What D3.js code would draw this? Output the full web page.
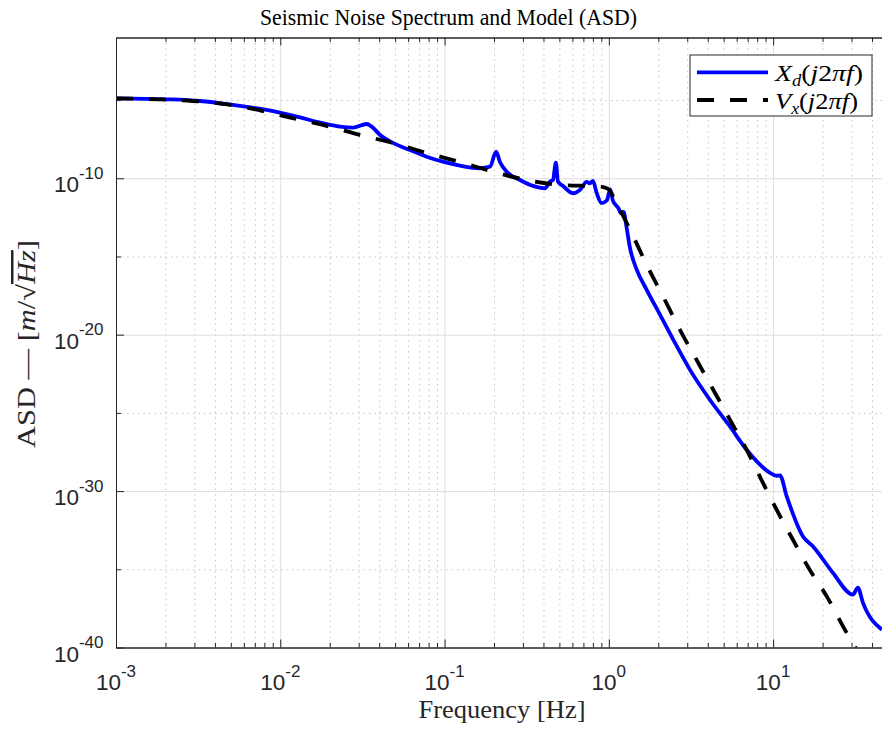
<!DOCTYPE html>
<html>
<head>
<meta charset="utf-8">
<script src="https://cdn.jsdelivr.net/npm/d3@7"></script>
<style>
  body { margin: 0; background: #fff; }
  .grid-major line { stroke: #dedede; stroke-width: 1; }
  .grid-minor line { stroke: #c4c4c4; stroke-width: 1; stroke-dasharray: 1.5, 4; }
  .grid-major path, .grid-minor path { display: none; }
  .axis path, .axis line { stroke: #262626; stroke-width: 1; }
</style>
</head>
<body>
<div id="chart"></div>
<script>
// measured spectrum X_d(j2*pi*f)
const measFreq = [
  1.00e-3, 2.04e-3, 3.24e-3, 5.15e-3, 8.26e-3, 1.32e-2, 1.75e-2, 2.31e-2, 2.77e-2, 3.36e-2,
  3.60e-2, 4.05e-2, 4.85e-2, 6.15e-2, 7.78e-2, 9.77e-2, 0.124, 0.164, 0.189, 0.206,
  0.217, 0.239, 0.288, 0.345, 0.408, 0.439, 0.457, 0.476, 0.490, 0.526,
  0.605, 0.667, 0.733, 0.767, 0.800, 0.843, 0.904, 0.971, 1.02, 1.06,
  1.14, 1.19, 1.23, 1.28, 1.34, 1.48, 1.70, 2.05, 2.47, 3.12,
  4.12, 5.46, 6.90, 9.57, 10.5, 11.0, 12.1, 15.2, 17.5, 23.1,
  30.6, 32.8, 35.2, 45.9
];
const measAsd = [
  1.30e-5, 1.12e-5, 8.71e-6, 4.90e-6, 2.34e-6, 7.76e-7, 3.63e-7, 2.00e-7, 1.74e-7, 2.95e-7,
  2.00e-7, 5.89e-8, 1.82e-8, 6.46e-9, 2.40e-9, 1.15e-9, 6.46e-10, 4.37e-10, 5.50e-10, 5.01e-9,
  1.15e-9, 2.63e-10, 7.76e-11, 3.24e-11, 2.29e-11, 6.17e-11, 7.76e-11, 1.00e-9, 6.17e-11, 3.24e-11,
  1.10e-11, 1.82e-11, 5.89e-11, 4.79e-11, 6.76e-11, 1.15e-11, 2.57e-12, 3.80e-12, 1.95e-11, 3.55e-12,
  1.29e-12, 5.62e-13, 7.08e-13, 8.13e-14, 4.27e-15, 1.38e-16, 7.41e-18, 1.86e-19, 4.68e-21, 5.62e-23,
  6.92e-25, 1.35e-26, 4.37e-28, 1.48e-29, 9.55e-30, 1.02e-29, 4.57e-31, 1.26e-33, 2.88e-34, 6.03e-36,
  2.40e-37, 6.61e-37, 7.41e-38, 1.38e-39
];

// model V_x(j2*pi*f)
const modelFreq = [
  1.00e-3, 1.80e-3, 2.94e-3, 4.74e-3, 7.52e-3, 1.19e-2, 1.91e-2, 3.05e-2, 4.85e-2, 7.78e-2,
  0.124, 0.197, 0.316, 0.504, 0.883, 0.989, 1.11, 1.41, 1.70, 2.14,
  2.71, 3.42, 4.32, 5.46, 6.90, 8.67, 10.5, 13.2, 16.7, 21.2,
  28.0, 33.7
];
const modelAsd = [
  1.30e-5, 1.12e-5, 8.71e-6, 5.25e-6, 2.19e-6, 6.92e-7, 2.24e-7, 5.89e-8, 1.82e-8, 4.17e-9,
  1.10e-9, 2.63e-10, 7.76e-11, 3.80e-11, 2.95e-11, 2.09e-11, 2.63e-12, 1.86e-14, 2.88e-16, 2.75e-18,
  2.04e-20, 2.45e-22, 3.02e-24, 3.63e-26, 4.37e-28, 3.39e-30, 6.46e-32, 7.76e-34, 9.33e-36, 1.86e-37,
  8.91e-40, 3.47e-41
];

const xTickExps = [-3, -2, -1, 0, 1];
const yTickExps = [-40, -30, -20, -10];
const yMinorExps = [-35, -25, -15, -5];
const xDomain = [1e-3, 46];
const yDomain = [1e-40, 1e-1];

(function () {
  const width = 882;
  const height = 729;
  const margin = { top: 37.5, right: 0, bottom: 81.5, left: 116 };
  const innerW = width - margin.left - margin.right;
  const innerH = height - margin.top - margin.bottom;

  const svg = d3
    .select("#chart")
    .append("svg")
    .attr("width", width)
    .attr("height", height)
    .style("display", "block")
    .style("background", "#fff");

  const g = svg
    .append("g")
    .attr("transform", `translate(${margin.left},${margin.top})`);

  // scales
  const x = d3.scaleLog().domain(xDomain).range([0, innerW]);
  const y = d3.scaleLog().domain(yDomain).range([innerH, 0]);

  const pow10 = (e) => Math.pow(10, e);
  const xMajor = xTickExps.map(pow10);
  const xMinor = [];
  xTickExps.forEach((e) => {
    for (let k = 2; k <= 9; k++) {
      const v = k * pow10(e);
      if (v <= xDomain[1]) xMinor.push(v);
    }
  });
  const yMajor = yTickExps.map(pow10);
  const yMinor = yMinorExps.map(pow10);

  // grid
  g.append("g")
    .attr("class", "grid-minor")
    .call(d3.axisBottom(x).tickValues(xMinor).tickSize(innerH).tickFormat(""));
  g.append("g")
    .attr("class", "grid-minor")
    .call(d3.axisRight(y).tickValues(yMinor).tickSize(innerW).tickFormat(""));
  g.append("g")
    .attr("class", "grid-major")
    .call(d3.axisBottom(x).tickValues(xMajor.slice(1)).tickSize(innerH).tickFormat(""));
  g.append("g")
    .attr("class", "grid-major")
    .call(d3.axisRight(y).tickValues(yMajor.slice(1)).tickSize(innerW).tickFormat(""));

  // lines
  g.append("clipPath")
    .attr("id", "plot-clip")
    .append("rect")
    .attr("width", innerW)
    .attr("height", innerH);

  const line = d3
    .line()
    .x((d) => x(d[0]))
    .y((d) => y(d[1]))
    .curve(d3.curveMonotoneX);

  const plot = g.append("g").attr("clip-path", "url(#plot-clip)");

  plot.append("path")
    .datum(d3.zip(measFreq, measAsd))
    .attr("fill", "none")
    .attr("stroke", "#0000ff")
    .attr("stroke-width", 3.8)
    .attr("stroke-linejoin", "round")
    .attr("d", line);

  plot.append("path")
    .datum(d3.zip(modelFreq, modelAsd))
    .attr("fill", "none")
    .attr("stroke", "#000")
    .attr("stroke-width", 3.8)
    .attr("stroke-dasharray", "17,16")
    .attr("d", line);

  // axes (ticks point inward)
  g.append("g")
    .attr("class", "axis")
    .attr("transform", `translate(0,${innerH})`)
    .call(d3.axisBottom(x).tickValues(xMajor).tickSizeInner(-8).tickSizeOuter(0).tickFormat(""));
  g.append("g")
    .attr("class", "axis")
    .attr("transform", `translate(0,${innerH})`)
    .call(d3.axisBottom(x).tickValues(xMinor).tickSizeInner(-4.5).tickSizeOuter(0).tickFormat(""));
  g.append("g")
    .attr("class", "axis")
    .call(d3.axisTop(x).tickValues(xMajor).tickSizeInner(-8).tickSizeOuter(0).tickFormat(""));
  g.append("g")
    .attr("class", "axis")
    .call(d3.axisTop(x).tickValues(xMinor).tickSizeInner(-4.5).tickSizeOuter(0).tickFormat(""));
  g.append("g")
    .attr("class", "axis")
    .call(d3.axisLeft(y).tickValues(yMajor).tickSizeInner(-8).tickSizeOuter(0).tickFormat(""));
  g.append("g")
    .attr("class", "axis")
    .call(d3.axisLeft(y).tickValues(yMinor).tickSizeInner(-5).tickSizeOuter(0).tickFormat(""));

  // tick labels 10^n
  const tickFont = "'Liberation Sans', Arial, Helvetica, sans-serif";
  const powLabel = (sel) => {
    sel.append("tspan").text("10");
    sel.append("tspan")
      .attr("dy", -13.5)
      .attr("font-size", 17)
      .text((d) => d);
  };

  g.append("g")
    .selectAll("text")
    .data(xTickExps)
    .join("text")
    .attr("x", (d) => x(pow10(d)))
    .attr("y", innerH + 42.5)
    .attr("text-anchor", "middle")
    .attr("font-family", tickFont)
    .attr("font-size", 22.5)
    .attr("fill", "#262626")
    .call(powLabel);

  g.append("g")
    .selectAll("text")
    .data(yTickExps)
    .join("text")
    .attr("x", -12.5)
    .attr("y", (d) => y(pow10(d)) + 14)
    .attr("text-anchor", "end")
    .attr("font-family", tickFont)
    .attr("font-size", 22.5)
    .attr("fill", "#262626")
    .call(powLabel);

  // titles
  const serif = "'Liberation Serif', 'Times New Roman', serif";

  svg.append("text")
    .attr("x", 448.5)
    .attr("y", 25)
    .attr("text-anchor", "middle")
    .attr("font-family", serif)
    .attr("font-size", 23)
    .attr("textLength", 377)
    .attr("lengthAdjust", "spacingAndGlyphs")
    .text("Seismic Noise Spectrum and Model (ASD)");

  svg.append("text")
    .attr("x", 502)
    .attr("y", 718)
    .attr("text-anchor", "middle")
    .attr("font-family", serif)
    .attr("font-size", 25)
    .attr("fill", "#262626")
    .attr("textLength", 167)
    .attr("lengthAdjust", "spacingAndGlyphs")
    .text("Frequency [Hz]");

  const yl = svg.append("text")
    .attr("transform", "translate(35,344) rotate(-90)")
    .attr("text-anchor", "middle")
    .attr("font-family", serif)
    .attr("font-size", 25)
    .attr("fill", "#262626")
    .attr("textLength", 208)
    .attr("lengthAdjust", "spacingAndGlyphs");
  yl.append("tspan").text("ASD — [");
  yl.append("tspan").attr("font-style", "italic").text("m");
  yl.append("tspan").text("/√");
  yl.append("tspan")
    .attr("font-style", "italic")
    .style("text-decoration", "overline")
    .text("Hz");
  yl.append("tspan").text("]");

  // legend
  const legend = svg.append("g").attr("class", "legend");
  legend.append("rect")
    .attr("x", 690)
    .attr("y", 55)
    .attr("width", 182)
    .attr("height", 61)
    .attr("fill", "#fff")
    .attr("stroke", "#262626")
    .attr("stroke-width", 1);

  const legendItems = [
    { name: "X", sub: "d", color: "#0000ff", dash: null, width: 88 },
    { name: "V", sub: "x", color: "#000", dash: "17,16", width: 83 }
  ];

  const items = legend
    .selectAll(".legend-item")
    .data(legendItems)
    .join("g")
    .attr("class", "legend-item")
    .attr("transform", (d, i) => `translate(0, ${72.3 + i * 27.7})`);

  items.append("line")
    .attr("x1", 697)
    .attr("x2", 768)
    .attr("stroke", (d) => d.color)
    .attr("stroke-width", 3.8)
    .attr("stroke-dasharray", (d) => d.dash);

  items.append("text")
    .attr("x", 775)
    .attr("y", 9)
    .attr("font-family", serif)
    .attr("font-size", 24)
    .attr("textLength", (d) => d.width)
    .attr("lengthAdjust", "spacingAndGlyphs")
    .each(function (d) {
      const t = d3.select(this);
      t.append("tspan").attr("font-style", "italic").text(d.name);
      t.append("tspan").attr("font-style", "italic").attr("font-size", 16).attr("dy", 5).text(d.sub);
      t.append("tspan").attr("dy", -5).text("(");
      t.append("tspan").attr("font-style", "italic").text("j");
      t.append("tspan").text("2");
      t.append("tspan").attr("font-style", "italic").text("πf");
      t.append("tspan").text(")");
    });
})();
</script>
</body>
</html>
